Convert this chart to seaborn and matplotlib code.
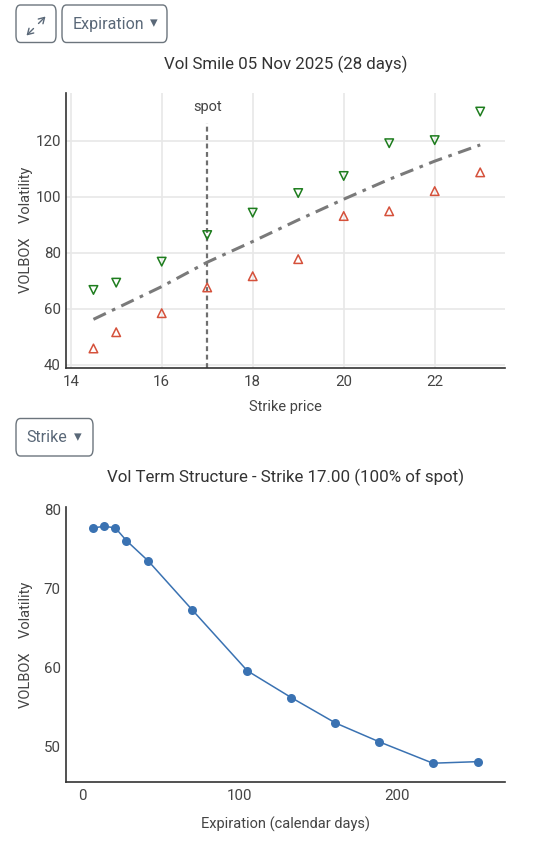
import numpy as np
import pandas as pd
import matplotlib
matplotlib.use("Agg")
import matplotlib.pyplot as plt
from matplotlib.patches import FancyBboxPatch, FancyArrowPatch
import seaborn as sns

# ---------------- data ----------------
strikes = [14.5, 15, 16, 17, 18, 19, 20, 21, 22, 23]
ask_vol = [66.7, 69.3, 76.8, 86.3, 94.3, 101.3, 107.4, 119.1, 120.2, 130.4]
bid_vol = [45.8, 51.6, 58.4, 67.6, 71.6, 77.7, 93.1, 94.8, 102.0, 108.7]
fit_vol = [56.2, 60.1, 67.9, 76.6, 84.0, 91.7, 99.1, 106.2, 112.7, 118.5]
spot = 17.0
smile_yticks = [40, 60, 80, 100, 120]
smile_xticks = [14, 16, 18, 20, 22]

exp_days = [7, 14, 21, 28, 42, 70, 105, 133, 161, 189, 223, 252]
term_vol = [77.7, 77.9, 77.7, 76.1, 73.5, 67.3, 59.6, 56.2, 53.0, 50.6, 47.9, 48.1]
term_yticks = [50, 60, 70, 80]
term_xticks = [0, 100, 200]

title_smile = "Vol Smile 05 Nov 2025 (28 days)"
title_term = "Vol Term Structure - Strike 17.00 (100% of spot)"

# ---------------- style ----------------
sns.set_theme(style="white")
plt.rcParams['font.family'] = ['Roboto', 'DejaVu Sans']
TXT = "#444444"
W, H = 536, 866
fig = plt.figure(figsize=(W / 100, H / 100), dpi=100)


def fx(px):
    return px / W


def fy(py):
    return 1 - py / H


def axes_px(l, t, r, b):
    return fig.add_axes([fx(l), fy(b), fx(r) - fx(l), fy(t) - fy(b)])


# ---------------- top: smile ----------------
ax1 = axes_px(65.7, 93, 505, 367.7)
df_s = pd.DataFrame({"strike": strikes, "ask": ask_vol, "bid": bid_vol, "fit": fit_vol})

sns.lineplot(data=df_s, x="strike", y="fit", ax=ax1, color="#7a7a7a", lw=2.2,
             zorder=3)
ax1.lines[-1].set_dashes([4.5, 2.2, 1.2, 2.2])
sns.scatterplot(data=df_s, x="strike", y="ask", ax=ax1, marker="v", s=38,
                edgecolor="#1e7d1e", linewidth=1.1, zorder=4)
ax1.collections[-1].set_facecolor("none")
sns.scatterplot(data=df_s, x="strike", y="bid", ax=ax1, marker="^", s=38,
                edgecolor="#d5513b", linewidth=1.1, zorder=4)
ax1.collections[-1].set_facecolor("none")

x0 = 14 - (70.7 - 65.7) / 45.5
x1 = 14 + (505 - 70.7) / 45.5
y0 = 40 - (367.7 - 364.7) / 2.8
y1 = 120 + (140.7 - 93) / 2.8
ax1.set_xlim(x0, x1)
ax1.set_ylim(y0, y1)
spot_top = 120 + (140.7 - 123) / 2.8
ax1.plot([spot, spot], [y0, spot_top], color="#6f6f6f", lw=1.6,
         linestyle=(0, (2.2, 1.6)), zorder=2)
ax1.text(spot, 120 + (140.7 - 106.5) / 2.8, "spot", ha="center", va="center",
         fontsize=10.5, color=TXT)

ax1.set_xticks(smile_xticks)
ax1.set_yticks(smile_yticks)
ax1.grid(True, color="#e8e8e8", lw=1.2)
ax1.set_axisbelow(True)
ax1.set_xlabel("Strike price", fontsize=10.5, color=TXT, labelpad=8)
ax1.set_title(title_smile, fontsize=12.2, color="#333333", pad=17.5)

# ---------------- bottom: term structure ----------------
ax2 = axes_px(65.7, 506.7, 505, 782.3)
df_t = pd.DataFrame({"days": exp_days, "vol": term_vol})
sns.lineplot(data=df_t, x="days", y="vol", ax=ax2, color="#3a72b2", lw=1.1,
             marker="o", markersize=6.5, markeredgewidth=0, zorder=3)
ax2.set_xlim(-(82.3 - 65.7) / 1.572, (505 - 82.3) / 1.572)
ax2.set_ylim(50 - (782.3 - 746.7) / 7.88, 80 + (509.7 - 506.7) / 7.88)
ax2.set_xticks(term_xticks)
ax2.set_yticks(term_yticks)
ax2.grid(False)
ax2.set_xlabel("Expiration (calendar days)", fontsize=10.5, color=TXT, labelpad=10)
ax2.set_title(title_term, fontsize=12.2, color="#333333", pad=17.5)

for ax in (ax1, ax2):
    for s in ("top", "right"):
        ax.spines[s].set_visible(False)
    for s in ("left", "bottom"):
        ax.spines[s].set_color("#333333")
        ax.spines[s].set_linewidth(1.2)
    ax.tick_params(axis="both", length=0, pad=5, labelsize=10.8, labelcolor=TXT)
    ax.tick_params(axis="y", pad=3.5)
    ax.set_ylabel("VOLBOX    Volatility", fontsize=10.5, color=TXT)
    ax.yaxis.set_label_coords(fx(33 - 65.7) / (fx(505) - fx(65.7)), 0.5)

# ---------------- UI buttons ----------------
def button(l, t, r, b):
    p = FancyBboxPatch((fx(l), fy(b)), fx(r) - fx(l), fy(t) - fy(b),
                       boxstyle="round,pad=0,rounding_size=0.008",
                       transform=fig.transFigure, fc="none", ec="#6c757d",
                       lw=1.0, figure=fig, zorder=1)
    fig.patches.append(p)


button(16, 5, 56, 42.5)
button(62, 5, 167, 42.5)
button(16, 418.5, 93, 456)

BTN = "#5a6878"
fig.text(fx(73), fy(24), "Expiration", fontsize=11.5, color=BTN,
         ha="left", va="center")
fig.text(fx(154), fy(23), "▾", fontsize=11, color=BTN, ha="center",
         va="center", family=["DejaVu Sans"])
fig.text(fx(26.5), fy(438), "Strike", fontsize=11.5, color=BTN,
         ha="left", va="center")
fig.text(fx(78), fy(437), "▾", fontsize=11, color=BTN, ha="center",
         va="center", family=["DejaVu Sans"])

arrow_kw = dict(arrowstyle="->,head_length=0.5,head_width=0.3", color=BTN,
                lw=1.0, mutation_scale=8, shrinkA=0, shrinkB=0,
                transform=fig.transFigure, zorder=10)
fig.patches.append(FancyArrowPatch((fx(33.5), fy(28.5)), (fx(26.5), fy(35.5)),
                                   figure=fig, **arrow_kw))
fig.patches.append(FancyArrowPatch((fx(38.5), fy(23.5)), (fx(45.5), fy(16.5)),
                                   figure=fig, **arrow_kw))

fig.savefig("out.png", dpi=100, facecolor="white")
